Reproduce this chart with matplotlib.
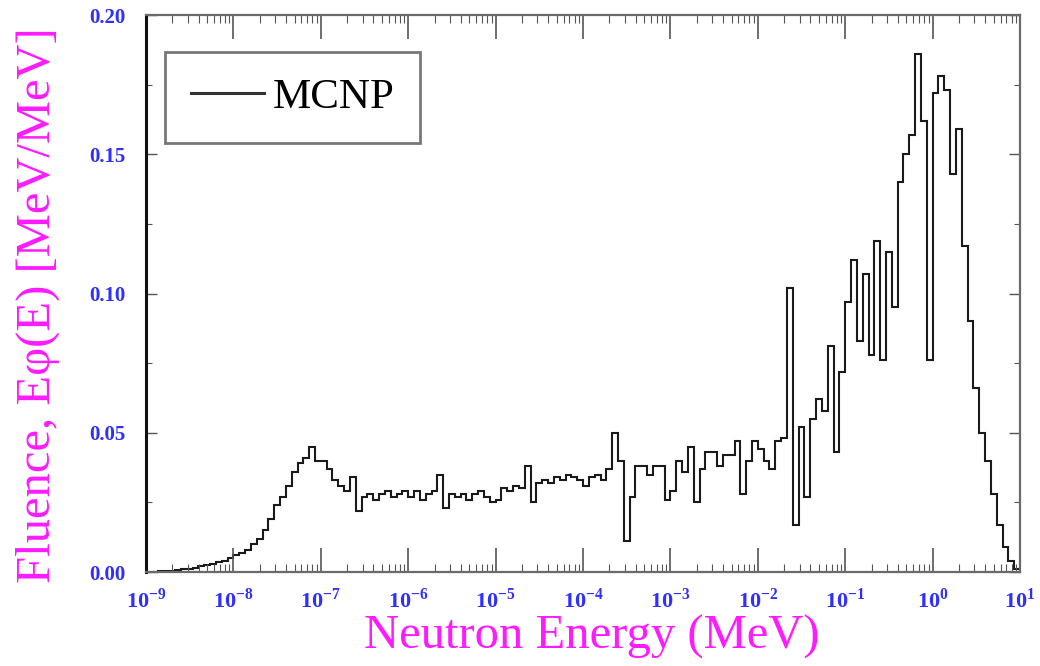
import numpy as np
import matplotlib
matplotlib.use("Agg")
import matplotlib.pyplot as plt
from matplotlib.lines import Line2D
from matplotlib.ticker import LogLocator, MultipleLocator, FormatStrFormatter, NullFormatter, FuncFormatter

# Lethargy-binned neutron fluence tally: 15 equal log bins per decade, 1e-9 .. 1e1 MeV
bins_per_decade = 15
e_min_exp, e_max_exp = -9, 1

fluence_dec_m9 = [0.0, 0.0, 0.0002, 0.0003, 0.0005, 0.0007, 0.001, 0.0012,
                  0.0015, 0.002, 0.0025, 0.003, 0.0035, 0.004, 0.005]
fluence_dec_m8 = [0.006, 0.007, 0.008, 0.010, 0.012, 0.015, 0.019, 0.024,
                  0.027, 0.031, 0.036, 0.039, 0.041, 0.045, 0.040]
fluence_dec_m7 = [0.040, 0.037, 0.033, 0.031, 0.029, 0.034, 0.022, 0.027,
                  0.028, 0.026, 0.028, 0.029, 0.027, 0.028, 0.029]
fluence_dec_m6 = [0.027, 0.029, 0.026, 0.028, 0.029, 0.035, 0.023, 0.028,
                  0.027, 0.028, 0.026, 0.028, 0.029, 0.027, 0.025]
fluence_dec_m5 = [0.026, 0.030, 0.029, 0.031, 0.030, 0.038, 0.025, 0.032,
                  0.033, 0.032, 0.034, 0.033, 0.035, 0.034, 0.033]
fluence_dec_m4 = [0.031, 0.034, 0.035, 0.033, 0.037, 0.050, 0.040, 0.011,
                  0.027, 0.038, 0.038, 0.035, 0.038, 0.038, 0.026]
fluence_dec_m3 = [0.029, 0.040, 0.036, 0.045, 0.025, 0.037, 0.043, 0.043,
                  0.038, 0.042, 0.042, 0.047, 0.028, 0.040, 0.047]
fluence_dec_m2 = [0.044, 0.040, 0.037, 0.047, 0.048, 0.102, 0.017, 0.052,
                  0.027, 0.055, 0.062, 0.058, 0.081, 0.043, 0.072]
fluence_dec_m1 = [0.097, 0.112, 0.083, 0.107, 0.078, 0.119, 0.076, 0.115,
                  0.095, 0.140, 0.150, 0.157, 0.186, 0.162, 0.076]
fluence_dec_0 = [0.172, 0.178, 0.173, 0.143, 0.159, 0.117, 0.090, 0.066,
                 0.050, 0.040, 0.028, 0.017, 0.009, 0.004, 0.001]

fluence = np.array(fluence_dec_m9 + fluence_dec_m8 + fluence_dec_m7 + fluence_dec_m6
                   + fluence_dec_m5 + fluence_dec_m4 + fluence_dec_m3 + fluence_dec_m2
                   + fluence_dec_m1 + fluence_dec_0)
n_bins = bins_per_decade * (e_max_exp - e_min_exp)
edges = np.logspace(e_min_exp, e_max_exp, n_bins + 1)

y_ticks = [0.00, 0.05, 0.10, 0.15, 0.20]
series_label = "MCNP"
x_label = "Neutron Energy (MeV)"
y_label = "Fluence, E\u03c6(E) [MeV/MeV]"

tick_blue = "#2f2fff"
label_magenta = "#ff1aff"
serif = ["Liberation Serif", "DejaVu Serif"]

fig = plt.figure(figsize=(10.40, 6.66), dpi=100)
ax = fig.add_axes([0.1404, 0.1411, 0.8404, 0.8363])

ax.stairs(fluence, edges, color="#1a1a1a", linewidth=1.5)

ax.set_xscale("log")
ax.set_xlim(edges[0], edges[-1])
ax.set_ylim(y_ticks[0], y_ticks[-1])

ax.xaxis.set_major_locator(LogLocator(base=10, numticks=20))
ax.xaxis.set_minor_locator(LogLocator(base=10, subs=np.arange(2, 10), numticks=200))
ax.xaxis.set_minor_formatter(NullFormatter())
ax.xaxis.set_major_formatter(FuncFormatter(
    lambda v, pos: r"$\mathdefault{10}^{\mathdefault{%d}}$" % int(round(np.log10(v)))))
ax.set_yticks(y_ticks)
ax.yaxis.set_minor_locator(MultipleLocator(0.025))
ax.yaxis.set_major_formatter(FormatStrFormatter("%.2f"))

ax.tick_params(which="both", direction="in", top=True, right=True,
               colors="#555555", labelcolor=tick_blue)
ax.tick_params(axis="x", which="major", length=17, width=1.2, pad=12, labelsize=16)
ax.tick_params(axis="x", which="minor", length=6, width=0.8)
ax.tick_params(axis="y", which="major", length=8, width=1.0, pad=15, labelsize=15)
ax.tick_params(axis="y", which="minor", length=4, width=0.8)
for lbl in ax.get_yticklabels() + ax.get_xticklabels():
    lbl.set_fontfamily(serif)
    lbl.set_fontweight("bold")

for side in ["top", "right", "bottom"]:
    ax.spines[side].set_color("#6a6a6a")
    ax.spines[side].set_linewidth(1.6)
ax.spines["left"].set_color("#111111")
ax.spines["left"].set_linewidth(2.2)

ax.set_xlabel(x_label, fontsize=35, color=label_magenta, family=serif)
ax.xaxis.set_label_coords(0.510, -0.076)
ax.set_ylabel(y_label, fontsize=35, color=label_magenta, family=serif)
ax.yaxis.set_label_coords(-0.098, 0.479)

handle = Line2D([], [], color="#333333", linewidth=2.2)
leg = ax.legend([handle], [series_label], loc="upper left",
                bbox_to_anchor=(0.0217, 0.9336), prop={"family": serif, "size": 31},
                frameon=True, fancybox=False, handlelength=1.7, handletextpad=0.2,
                borderpad=0.6, borderaxespad=0.0)
leg.get_frame().set_edgecolor("#555555")
leg.get_frame().set_linewidth(2.0)

fig.savefig("out.png", dpi=100)
